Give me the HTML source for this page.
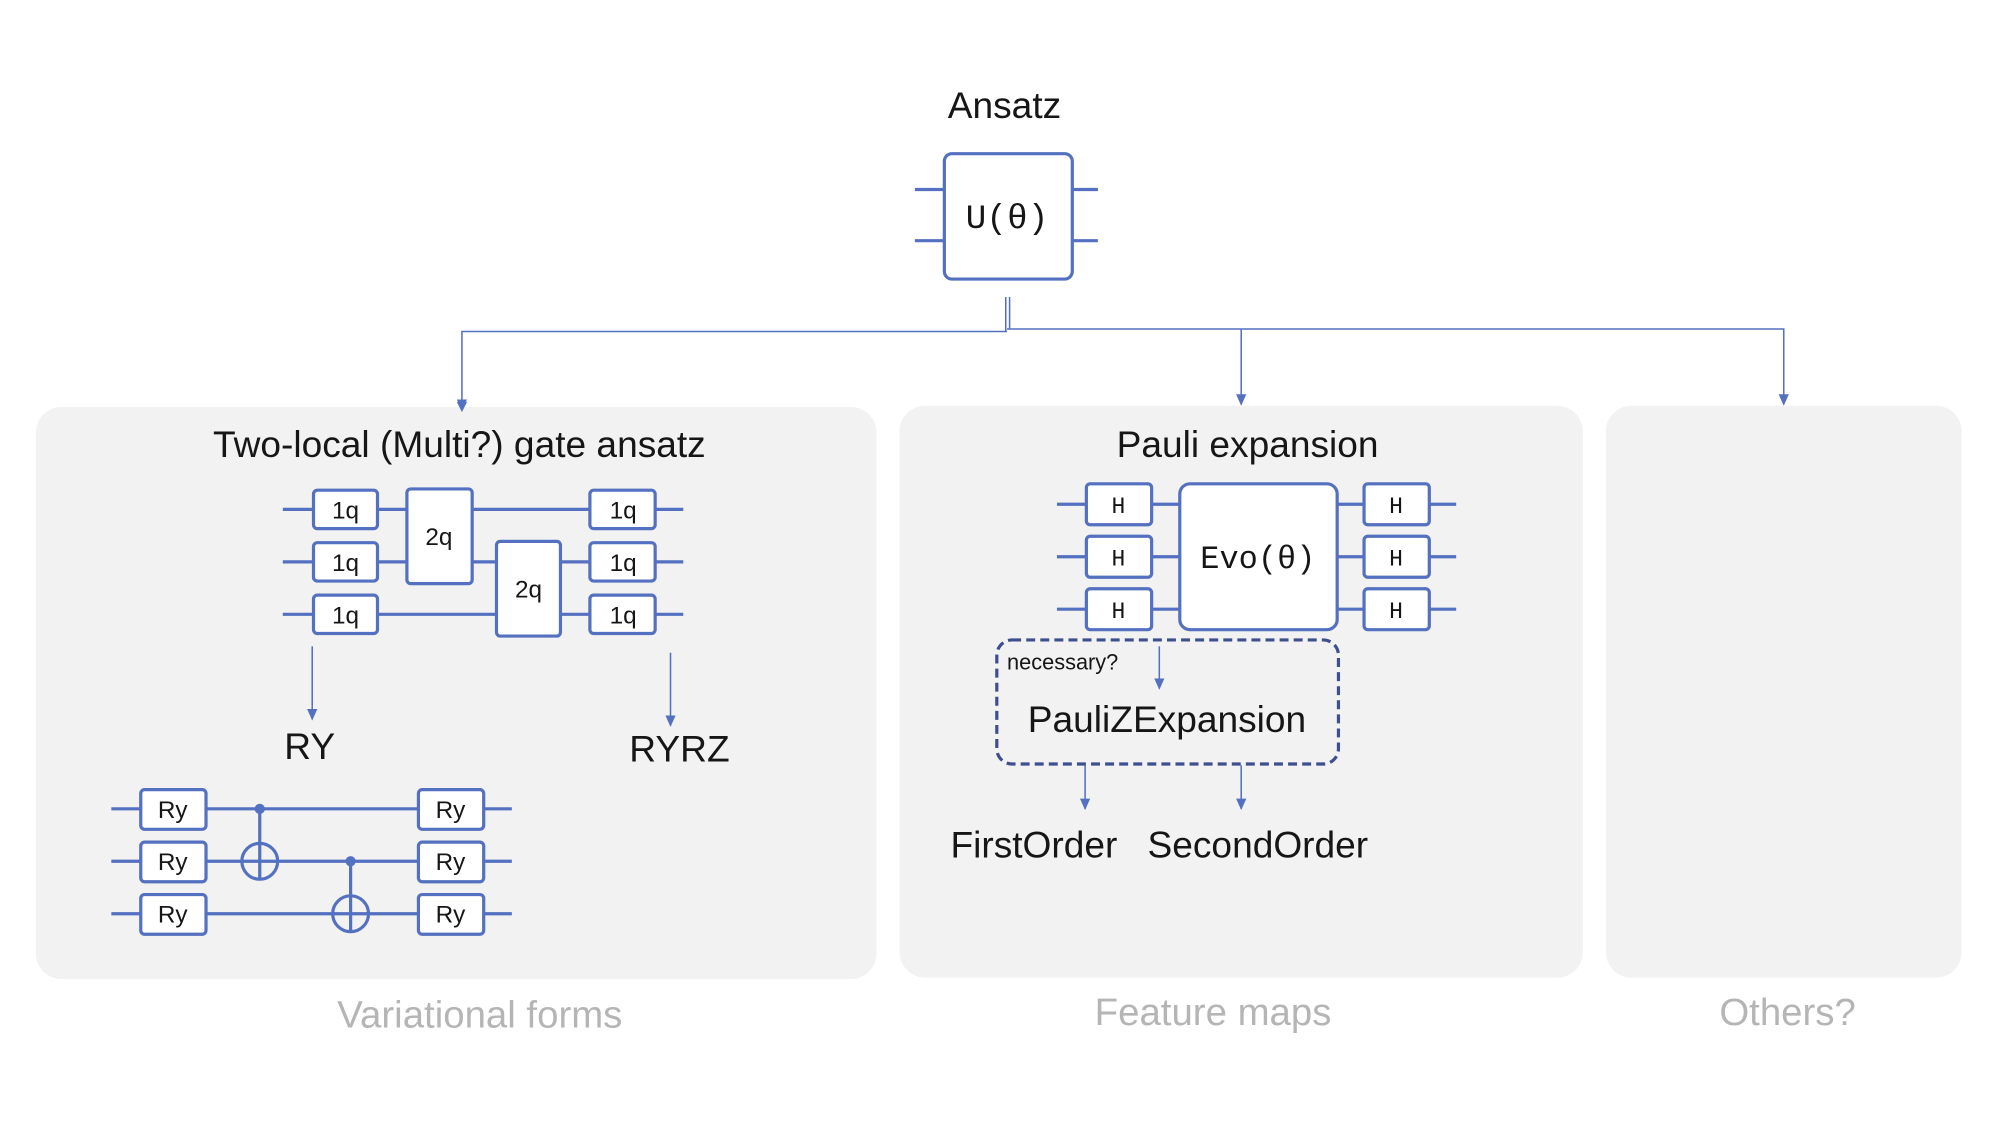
<!DOCTYPE html>
<html><head><meta charset="utf-8"><style>
html,body{margin:0;padding:0;background:#fff;width:2000px;height:1125px;overflow:hidden}
svg{display:block}
text{font-family:"Liberation Sans",sans-serif;fill:#161616}
.m{font-family:"Liberation Mono","DejaVu Sans Mono",monospace}
.w{stroke:#5470c0;stroke-width:2.5;fill:none}
.b{stroke:#5470c0;stroke-width:2.5;fill:#fff}
.c{stroke:#5470c0;stroke-width:1.2;fill:none}
.g{fill:#b5b5b5}
</style></head><body>
<svg width="2000" height="1125" viewBox="0 0 1563 879" xmlns="http://www.w3.org/2000/svg">
<defs><marker id="a" markerWidth="9" markerHeight="8" refX="8" refY="4" orient="auto" markerUnits="userSpaceOnUse"><path d="M0,0 L9,4 L0,8z" fill="#5470c0"/></marker></defs>
<text x="785" y="92" font-size="29" text-anchor="middle">Ansatz</text>
<line class="w" x1="715" y1="148" x2="738" y2="148"/><line class="w" x1="715" y1="188" x2="738" y2="188"/>
<line class="w" x1="838" y1="148" x2="858" y2="148"/><line class="w" x1="838" y1="188" x2="858" y2="188"/>
<rect class="b" x="738" y="120" width="100" height="98" rx="6"/>
<text class="m" x="787" y="178" font-size="27" text-anchor="middle">U(θ)</text>
<line class="c" x1="786" y1="232" x2="786" y2="259"/><line class="c" x1="789" y1="232" x2="789" y2="257"/>
<polyline class="c" points="787,259 361,259 361,320" marker-end="url(#a)"/>
<polyline class="c" points="787,257 1394,257 1394,316" marker-end="url(#a)"/>
<line class="c" x1="970" y1="257" x2="970" y2="316" marker-end="url(#a)"/>
<rect x="28" y="318" width="657" height="447" rx="20" fill="#f2f2f2"/>
<rect x="703" y="317" width="534" height="447" rx="20" fill="#f2f2f2"/>
<rect x="1255" y="317" width="278" height="447" rx="20" fill="#f2f2f2"/>
<polygon points="357,314 365,314 361,322" fill="#5470c0"/>
<text x="359" y="357" font-size="29" text-anchor="middle">Two-local (Multi?) gate ansatz</text>
<text x="975" y="357" font-size="29" text-anchor="middle">Pauli expansion</text>
<g>
<line class="w" x1="221" y1="398" x2="534" y2="398"/><line class="w" x1="221" y1="439" x2="534" y2="439"/><line class="w" x1="221" y1="480" x2="534" y2="480"/>
<rect class="b" x="245" y="383" width="50" height="30" rx="3"/><rect class="b" x="245" y="424" width="50" height="30" rx="3"/><rect class="b" x="245" y="465" width="50" height="30" rx="3"/>
<rect class="b" x="461" y="383" width="51" height="30" rx="3"/><rect class="b" x="461" y="424" width="51" height="30" rx="3"/><rect class="b" x="461" y="465" width="51" height="30" rx="3"/>
<rect class="b" x="318" y="382" width="51" height="74" rx="3"/><rect class="b" x="388" y="423" width="50" height="74" rx="3"/>
<g font-size="19" text-anchor="middle">
<text x="270" y="405">1q</text><text x="270" y="446">1q</text><text x="270" y="487">1q</text>
<text x="487" y="405">1q</text><text x="487" y="446">1q</text><text x="487" y="487">1q</text>
<text x="343" y="426">2q</text><text x="413" y="467">2q</text></g>
</g>
<line class="c" x1="244" y1="505" x2="244" y2="562" marker-end="url(#a)"/>
<line class="c" x1="524" y1="510" x2="524" y2="567" marker-end="url(#a)"/>
<text x="242" y="593" font-size="29" text-anchor="middle">RY</text>
<text x="531" y="595" font-size="29" text-anchor="middle">RYRZ</text>
<g>
<line class="w" x1="87" y1="632" x2="400" y2="632"/><line class="w" x1="87" y1="673" x2="400" y2="673"/><line class="w" x1="87" y1="714" x2="400" y2="714"/>
<line class="w" x1="203" y1="632" x2="203" y2="687"/><circle cx="203" cy="632" r="4" fill="#5470c0"/><circle class="w" cx="203" cy="673" r="14"/>
<line class="w" x1="274" y1="673" x2="274" y2="728"/><circle cx="274" cy="673" r="4" fill="#5470c0"/><circle class="w" cx="274" cy="714" r="14"/>
<rect class="b" x="110" y="617" width="51" height="31" rx="3"/><rect class="b" x="110" y="658" width="51" height="31" rx="3"/><rect class="b" x="110" y="699" width="51" height="31" rx="3"/>
<rect class="b" x="327" y="617" width="51" height="31" rx="3"/><rect class="b" x="327" y="658" width="51" height="31" rx="3"/><rect class="b" x="327" y="699" width="51" height="31" rx="3"/>
<g font-size="19" text-anchor="middle">
<text x="135" y="639">Ry</text><text x="135" y="680">Ry</text><text x="135" y="721">Ry</text>
<text x="352" y="639">Ry</text><text x="352" y="680">Ry</text><text x="352" y="721">Ry</text></g>
</g>
<g>
<line class="w" x1="826" y1="394" x2="1138" y2="394"/><line class="w" x1="826" y1="435" x2="1138" y2="435"/><line class="w" x1="826" y1="476" x2="1138" y2="476"/>
<rect class="b" x="849" y="378" width="51" height="32" rx="3"/><rect class="b" x="849" y="419" width="51" height="32" rx="3"/><rect class="b" x="849" y="460" width="51" height="32" rx="3"/>
<rect class="b" x="1066" y="378" width="51" height="32" rx="3"/><rect class="b" x="1066" y="419" width="51" height="32" rx="3"/><rect class="b" x="1066" y="460" width="51" height="32" rx="3"/>
<rect class="b" x="922" y="378" width="123" height="114" rx="8"/>
<g font-size="18" text-anchor="middle">
<text class="m" x="874" y="401">H</text><text class="m" x="874" y="442">H</text><text class="m" x="874" y="483">H</text>
<text class="m" x="1091" y="401">H</text><text class="m" x="1091" y="442">H</text><text class="m" x="1091" y="483">H</text></g>
<text class="m" x="983" y="444" font-size="25" text-anchor="middle">Evo(θ)</text>
</g>
<rect x="779" y="500" width="267" height="97" rx="12" fill="none" stroke="#3d4f8f" stroke-width="2.5" stroke-dasharray="7,4"/>
<text x="787" y="523" font-size="17">necessary?</text>
<line class="c" x1="906" y1="505" x2="906" y2="538" marker-end="url(#a)"/>
<text x="912" y="572" font-size="29" text-anchor="middle">PauliZExpansion</text>
<line class="c" x1="848" y1="598" x2="848" y2="632" marker-end="url(#a)"/>
<line class="c" x1="970" y1="598" x2="970" y2="632" marker-end="url(#a)"/>
<text x="808" y="670" font-size="29" text-anchor="middle">FirstOrder</text>
<text x="983" y="670" font-size="29" text-anchor="middle">SecondOrder</text>
<text class="g" x="375" y="803" font-size="30" text-anchor="middle">Variational forms</text>
<text class="g" x="948" y="801" font-size="30" text-anchor="middle">Feature maps</text>
<text class="g" x="1397" y="801" font-size="30" text-anchor="middle">Others?</text>
</svg>
</body></html>
